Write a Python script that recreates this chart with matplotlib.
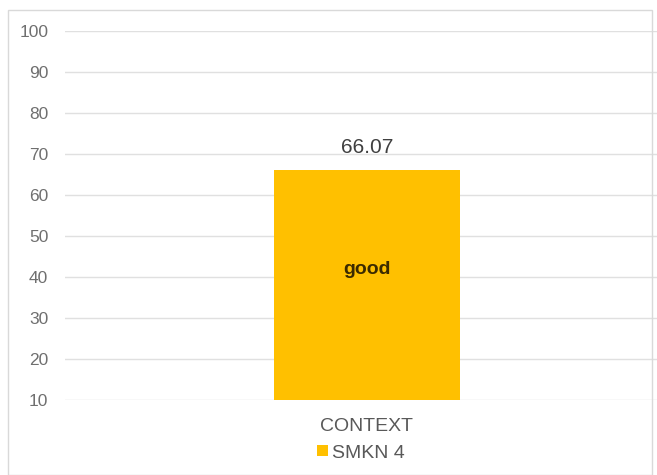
import matplotlib.pyplot as plt
from matplotlib.patches import Rectangle

plt.rcParams['font.family'] = ['Liberation Sans', 'DejaVu Sans']

# data
categories = ['CONTEXT']
values = [66.07]
series_name = 'SMKN 4'
inner_label = 'good'
yticks = [10, 20, 30, 40, 50, 60, 70, 80, 90, 100]

fig = plt.figure(figsize=(6.57, 4.75), dpi=100)
ax = fig.add_axes([65 / 657, 75 / 475, 1 - 65 / 657, 369 / 475])

# chart border
fig.patches.append(Rectangle((8 / 657, 0), 644 / 657, 465 / 475, transform=fig.transFigure,
                             fill=False, edgecolor='#d9d9d9', linewidth=1))

base = yticks[0]
bars = ax.bar(categories, [v - base for v in values], bottom=base, width=0.314,
              color='#FFC000', label=series_name, zorder=2)

for b, v in zip(bars, values):
    ax.text(b.get_x() + b.get_width() / 2, v + 5.5, f'{v:.2f}', ha='center', va='center',
            fontsize=15, color='#404040')
    ax.text(b.get_x() + b.get_width() / 2, 41.8, inner_label, ha='center', va='center',
            fontsize=14, fontweight='bold', color='#3b2a00')

ax.set_xlim(-0.51, 0.49)
ax.set_ylim(10, 100)
ax.set_yticks(yticks)
ax.yaxis.grid(True, color='#e0e0e0', linewidth=1, zorder=0)
ax.set_axisbelow(True)
ax.tick_params(axis='y', length=0, labelsize=12.5, colors='#6f6f6f', pad=12)
ax.tick_params(axis='x', length=0, labelsize=14, colors='#595959', pad=13)
for s in ax.spines.values():
    s.set_visible(False)

ax.legend(loc='center', bbox_to_anchor=(0.5, -53 / 369), frameon=False, fontsize=14,
          handlelength=0.55, handleheight=0.55, handletextpad=0.25, labelcolor='#595959',
          borderpad=0)

fig.savefig('out.png', dpi=100)
